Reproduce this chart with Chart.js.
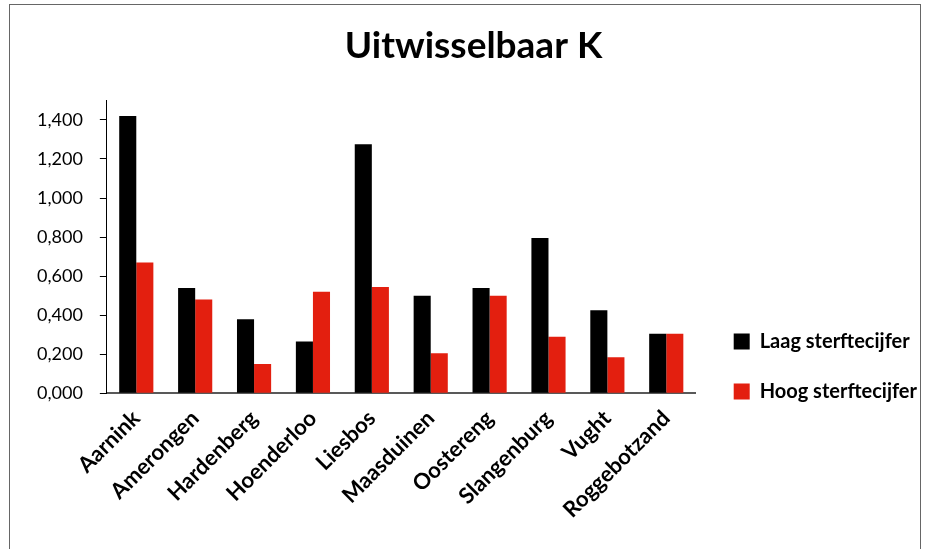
<!DOCTYPE html>
<html>
<head>
<meta charset="utf-8">
<script src="https://cdn.jsdelivr.net/npm/chart.js@4.4.1/dist/chart.umd.min.js"></script>
<style>
  body { margin: 0; background: #fff; }
  #wrap { position: relative; width: 933px; height: 549px; overflow: hidden; }
  #frame { position: absolute; left: 9px; top: 4px; width: 912px; height: 600px; border: 1px solid #666; box-sizing: border-box; }
  canvas { position: absolute; left: 0; top: 0; }
</style>
</head>
<body>
<div id="wrap">
  <div id="frame"></div>
  <canvas id="chart" width="933" height="549"></canvas>
</div>
<script>
// Locations
const categories = ["Aarnink", "Amerongen", "Hardenberg", "Hoenderloo", "Liesbos",
  "Maasduinen", "Oostereng", "Slangenburg", "Vught", "Roggebotzand"];

// Uitwisselbaar K per location
const laagSterfte = [1.420, 0.540, 0.380, 0.265, 1.275, 0.500, 0.540, 0.795, 0.425, 0.305];
const hoogSterfte = [0.670, 0.480, 0.150, 0.520, 0.545, 0.205, 0.500, 0.290, 0.185, 0.305];

// Y axis ticks
const yTicks = [0, 0.2, 0.4, 0.6, 0.8, 1.0, 1.2, 1.4];

const FONT = "Lato";

new Chart(document.getElementById("chart"), {
  type: "bar",
  data: {
    labels: categories,
    datasets: [
      {
        label: "Laag sterftecijfer",
        data: laagSterfte,
        backgroundColor: "#000000",
        categoryPercentage: 0.58,
        barPercentage: 1.0,
      },
      {
        label: "Hoog sterftecijfer",
        data: hoogSterfte,
        backgroundColor: "#e31f0f",
        categoryPercentage: 0.58,
        barPercentage: 1.0,
      },
    ],
  },
  options: {
    responsive: false,
    animation: false,
    layout: {
      padding: { left: 20, right: 6, top: 0, bottom: 22 },
    },
    plugins: {
      title: {
        display: true,
        text: "Uitwisselbaar K",
        color: "#000",
        font: { family: FONT, size: 37, weight: "bold" },
        padding: { top: 24, bottom: 32 },
      },
      legend: {
        display: true,
        position: "right",
        align: "start",
        maxWidth: 300,
        // empty title only pushes the items down next to the lower bars
        title: { display: true, text: "", font: { size: 12 }, padding: { top: 287, bottom: 0 } },
        labels: {
          boxWidth: 16,
          boxHeight: 16,
          padding: 30,
          color: "#000",
          font: { family: FONT, size: 20, weight: "bold" },
        },
      },
      tooltip: { enabled: false },
    },
    scales: {
      x: {
        grid: { display: false },
        border: { color: "#595959", width: 2 },
        ticks: {
          minRotation: 45,
          maxRotation: 45,
          color: "#000",
          padding: 4,
          font: { family: FONT, size: 22, weight: "bold" },
        },
        afterFit: (axis) => {
          axis.paddingLeft = 0;
          axis.paddingRight = 0;
        },
      },
      y: {
        min: 0,
        max: 1.5,
        afterBuildTicks: (axis) => {
          axis.ticks = yTicks.map((v) => ({ value: v }));
        },
        grid: {
          drawOnChartArea: false,
          drawTicks: true,
          tickLength: 7,
          color: "#000",
        },
        border: { color: "#000", width: 1 },
        ticks: {
          color: "#000",
          padding: 17,
          font: { family: FONT, size: 18 },
          callback: (v) => Number(v).toFixed(3).replace(".", ","),
        },
      },
      // spacer between plot and legend
      gap: {
        position: "right",
        display: true,
        grid: { display: false },
        border: { display: false },
        ticks: { display: false },
        afterFit: (axis) => {
          axis.width = 8;
        },
      },
    },
  },
});
</script>
</body>
</html>
